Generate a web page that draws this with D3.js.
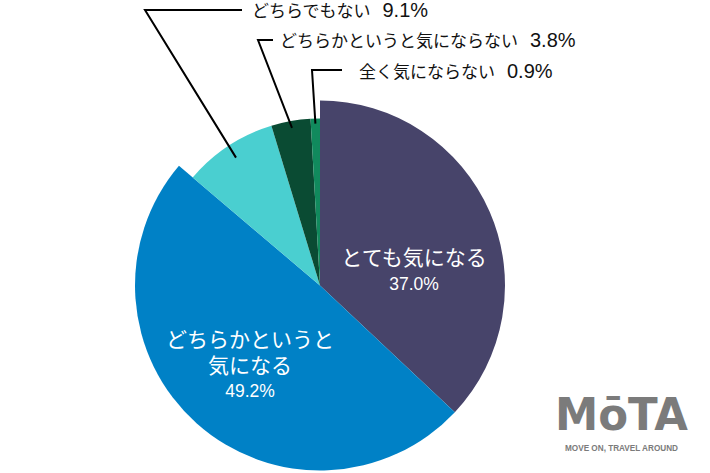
<!DOCTYPE html>
<html><head><meta charset="utf-8">
<script src="https://cdn.jsdelivr.net/npm/d3@7"></script>
<style>html,body{margin:0;padding:0;background:#fff}</style>
</head><body>
<svg id="c" width="710" height="473"></svg>
<script>
const categories = ["とても気になる", "どちらかというと気になる", "どちらでもない", "どちらかというと気にならない", "全く気にならない"];
const values = [37.0, 49.2, 9.1, 3.8, 0.9];
const colors = ["#47446a", "#0081c6", "#4acfd0", "#0a4b33", "#118a5d"];

const svg = d3.select("#c");
const W = 710, H = 473;
svg.append("rect").attr("width", W).attr("height", H).attr("fill", "#fff");
const cx = 320, cy = 285.5, R = 185, Rs = 167;
const FONT = "'Liberation Sans', 'Noto Sans CJK JP', sans-serif";

const data = categories.map((c, i) => ({ name: c, value: values[i], color: colors[i] }));
const pie = d3.pie().sort(null).value(d => d.value).startAngle(0).endAngle(2 * Math.PI);
const arcs = pie(data);
const outer = d => d.data.value >= 20 ? R : Rs;
const arc = d3.arc().innerRadius(0).outerRadius(d => outer(d));

const g = svg.append("g").attr("transform", `translate(${cx},${cy})`);
g.selectAll("path").data(arcs).join("path")
  .attr("d", arc).attr("fill", d => d.data.color);

const fmt = v => v.toFixed(1) + "%";

// inner labels
const inner = [
  { i: 0, x: 414, lines: ["とても気になる"], y0: 265, pctY: 290 },
  { i: 1, x: 250, lines: ["どちらかというと", "気になる"], y0: 347, pctY: 397 }
];
inner.forEach(L => {
  L.lines.forEach((t, k) => {
    svg.append("text").attr("x", L.x).attr("y", L.y0 + k * 26)
      .attr("text-anchor", "middle").attr("fill", "#fff")
      .attr("font-family", FONT).attr("font-size", 21).text(t);
  });
  svg.append("text").attr("x", L.x).attr("y", L.pctY)
    .attr("text-anchor", "middle").attr("fill", "#fff")
    .attr("font-family", FONT).attr("font-size", 17.5).text(fmt(values[L.i]));
});

// outside labels with leader lines
const outside = [
  { i: 2, elbow: [145, 10], hEnd: 242, tx: 252, ty: 17, rIn: 153 },
  { i: 3, elbow: [258, 40], hEnd: 273, tx: 280, ty: 47, rIn: 160 },
  { i: 4, elbow: [312, 70], hEnd: 342, tx: 359, ty: 78, rIn: 162 }
];
outside.forEach(L => {
  const a = arcs[L.i];
  const mid = (a.startAngle + a.endAngle) / 2;
  const px = cx + L.rIn * Math.sin(mid), py = cy - L.rIn * Math.cos(mid);
  svg.append("path")
    .attr("d", d3.line()([[px, py], L.elbow, [L.hEnd, L.elbow[1]]]))
    .attr("fill", "none").attr("stroke", "#000").attr("stroke-width", 2);
  const t = svg.append("text").attr("x", L.tx).attr("y", L.ty)
    .attr("fill", "#111").attr("font-family", FONT).attr("font-size", 17);
  t.append("tspan").text(categories[L.i]);
  t.append("tspan").attr("dx", 12).attr("font-size", 20).text(fmt(values[L.i]));
});

// logo
svg.append("text").attr("x", 555).attr("y", 430)
  .attr("fill", "#7b7b7b").attr("font-family", "'DejaVu Sans', sans-serif")
  .attr("font-weight", "bold").attr("font-size", 45)
  .attr("textLength", 133).attr("lengthAdjust", "spacingAndGlyphs").text("MōTA");
svg.append("text").attr("x", 565).attr("y", 451)
  .attr("fill", "#7b7b7b").attr("font-family", "'Liberation Sans', sans-serif")
  .attr("font-weight", "bold").attr("font-size", 9.5)
  .attr("textLength", 113).attr("lengthAdjust", "spacingAndGlyphs").text("MOVE ON, TRAVEL AROUND");
</script>
</body></html>
